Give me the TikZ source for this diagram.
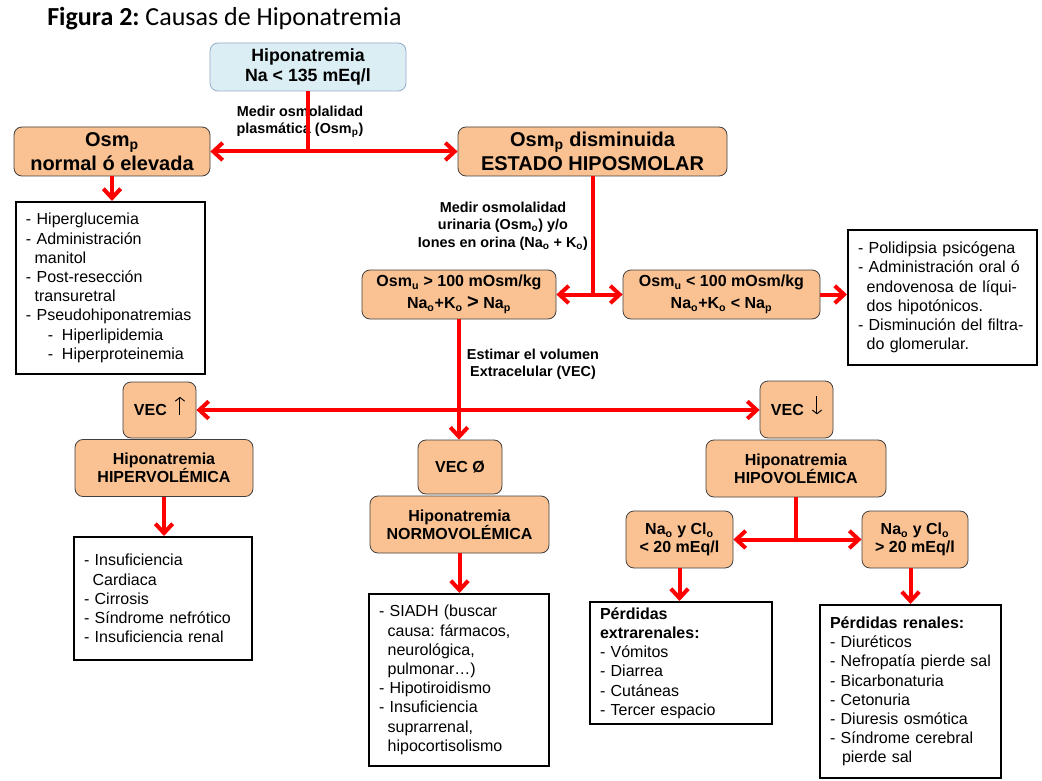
\documentclass[tikz,border=0pt]{standalone}
\usepackage{fontspec}
\setmainfont{Liberation Sans}
\newfontfamily\titlefont{Carlito}
\usetikzlibrary{arrows.meta}
\definecolor{peach}{RGB}{250,194,146}
\definecolor{paleblue}{RGB}{219,238,244}
\definecolor{blueedge}{RGB}{150,172,200}
\definecolor{redline}{RGB}{255,0,0}
\newcommand{\lsub}[1]{\textsubscript{#1}}
\newcommand{\uparr}{\smash{\tikz[baseline=0pt]\draw[black,line width=0.7pt,-{Straight Barb[length=2.8pt,width=7pt]}] (0pt,0.5pt) -- (0pt,14pt);}}
\newcommand{\dnarr}{\smash{\tikz[baseline=0pt]\draw[black,line width=0.7pt,-{Straight Barb[length=2.8pt,width=7pt]}] (0pt,14pt) -- (0pt,0.5pt);}}
\frenchspacing
\begin{document}
\begin{tikzpicture}[x=0.75pt,y=-0.75pt,
  box/.style={draw=black!75, line width=0.6pt, fill=peach, rounded corners=6pt, align=center, inner sep=0pt, font=\bfseries\fontsize{12}{13.5}\selectfont},
  bbox/.style={box, fill=paleblue, draw=blueedge, font=\bfseries\fontsize{13.3}{15.5}\selectfont},
  bigbox/.style={box, font=\bfseries\fontsize{15}{17.5}\selectfont},
  midbox/.style={box, font=\bfseries\fontsize{12}{16.5}\selectfont},
  lbox/.style={draw=black, line width=1.5pt, fill=white, align=left, inner sep=0pt, font=\fontsize{12}{14.4}\selectfont},
  arr/.style={draw=redline, line width=3pt, -{Straight Barb[length=7pt,width=13pt]}},
  ln/.style={draw=redline, line width=3pt},
  lbl/.style={font=\bfseries\fontsize{10.8}{13}\selectfont, align=center, inner sep=0pt}]
\fill[white] (0,0) rectangle (1042,781);
\useasboundingbox (0,0) rectangle (1042,781);

\node[anchor=base west, inner sep=0pt, font=\titlefont\fontsize{19.5}{22}\selectfont] (title) at (47,26) {\textbf{Figura 2:} Causas de Hiponatremia};

\node[bbox, minimum width=147pt, minimum height=36pt] (hipo) at (308,67) {Hiponatremia\\Na < 135 mEq/l};
\node[bigbox, minimum width=147pt, minimum height=36.75pt] (osmn) at (112,151.5) {Osm\lsub{p}\\normal ó elevada};
\node[bigbox, minimum width=201.75pt, minimum height=36.75pt] (osmd) at (592.5,151.5) {Osm\lsub{p} disminuida\\ESTADO HIPOSMOLAR};

\node[lbox, minimum width=141.75pt, minimum height=129pt, text width=126.75pt] (list1) at (110.5,288) {- Hiperglucemia\\- Administración\\\hspace*{6.5pt}manitol\\- Post-resección\\\hspace*{6.5pt}transuretral\\- Pseudohiponatremias\\\hspace*{16.5pt}-\hspace*{6.5pt}Hiperlipidemia\\\hspace*{16.5pt}-\hspace*{6.5pt}Hiperproteinemia};

\node[midbox, minimum width=145.5pt, minimum height=36.75pt] (osmu1) at (459,294.5) {Osm\lsub{u} > 100 mOsm/kg\\Na\lsub{o}+K\lsub{o} {\fontsize{15}{16}\selectfont >} Na\lsub{p}};
\node[midbox, minimum width=147.75pt, minimum height=36.75pt] (osmu2) at (721.5,294.5) {Osm\lsub{u} < 100 mOsm/kg\\Na\lsub{o}+K\lsub{o} < Na\lsub{p}};

\node[lbox, minimum width=141.75pt, minimum height=101.25pt, text width=126.75pt] (list2) at (942.5,297.5) {- Polidipsia psicógena\\- Administración oral ó\\\hspace*{6.5pt}endovenosa de líqui-\\\hspace*{6.5pt}dos hipotónicos.\\- Disminución del filtra-\\\hspace*{6.5pt}do glomerular.};

\node[box, minimum width=54.75pt, minimum height=42pt] (vecup) at (159.5,410) {VEC\hspace{6pt}\uparr};
\node[box, minimum width=133.5pt, minimum height=42.75pt] (hiper) at (164,468) {Hiponatremia\\HIPERVOLÉMICA};
\node[lbox, minimum width=133.5pt, minimum height=92.25pt, text width=118.5pt] (list3) at (163,598.5) {- Insuficiencia\\\hspace*{6.5pt}Cardiaca\\- Cirrosis\\- Síndrome nefrótico\\- Insuficiencia renal};

\node[box, minimum width=63pt, minimum height=40.5pt] (vec0) at (460,467) {VEC Ø};
\node[box, minimum width=134.25pt, minimum height=42.75pt] (normo) at (459.5,524.5) {Hiponatremia\\NORMOVOLÉMICA};
\node[lbox, minimum width=135pt, minimum height=129pt, text width=120pt] (list4) at (459,680) {- SIADH (buscar\\\hspace*{6.5pt}causa: fármacos,\\\hspace*{6.5pt}neurológica,\\\hspace*{6.5pt}pulmonar…)\\- Hipotiroidismo\\- Insuficiencia\\\hspace*{6.5pt}suprarrenal,\\\hspace*{6.5pt}hipocortisolismo};

\node[box, minimum width=54.75pt, minimum height=42.75pt] (vecdn) at (796.5,409.5) {VEC\hspace{6pt}\dnarr};
\node[box, minimum width=135pt, minimum height=42.75pt] (hipov) at (796,468.5) {Hiponatremia\\HIPOVOLÉMICA};
\node[box, minimum width=80.25pt, minimum height=42.75pt] (na1) at (679.5,539.5) {Na\lsub{o} y Cl\lsub{o}\\< 20 mEq/l};
\node[box, minimum width=79.5pt, minimum height=42.75pt] (na2) at (915,539.5) {Na\lsub{o} y Cl\lsub{o}\\> 20 mEq/l};
\node[lbox, minimum width=136.5pt, minimum height=91.5pt, text width=121.5pt] (list5) at (681,663) {\textbf{Pérdidas}\\\textbf{extrarenales:}\\- Vómitos\\- Diarrea\\- Cutáneas\\- Tercer espacio};
\node[lbox, minimum width=135.75pt, minimum height=129.75pt, text width=120.75pt] (list6) at (910.5,691.5) {\textbf{Pérdidas renales:}\\- Diuréticos\\- Nefropatía pierde sal\\- Bicarbonaturia\\- Cetonuria\\- Diuresis osmótica\\- Síndrome cerebral\\\hspace*{9pt}pierde sal};

\node[lbl] (lab1) at (300,122) {Medir osmolalidad\\plasmática (Osm\lsub{p})};
\node[lbl] (lab2) at (503,226) {Medir osmolalidad\\urinaria (Osm\lsub{o}) y/o\\Iones en orina (Na\lsub{o} + K\lsub{o})};
\node[lbl] (lab3) at (533,364) {Estimar el volumen\\Extracelular (VEC)};

\coordinate (j1) at (hipo.south |- osmn.east);
\draw[ln] (hipo.south) -- (j1);
\draw[arr] (j1) -- (osmn.east);
\draw[arr] (j1) -- (osmd.west);
\draw[arr] (osmn.south) -- (osmn.south |- list1.north);
\coordinate (j2) at (osmd.south |- osmu1.east);
\draw[ln] (osmd.south) -- (j2);
\draw[arr] (j2) -- (osmu1.east);
\draw[arr] (j2) -- (osmu2.west);
\draw[arr] (osmu2.east) -- (list2.west |- osmu2.east);
\coordinate (j3) at (osmu1.south |- vecup.east);
\draw[arr] (osmu1.south) -- (osmu1.south |- vec0.north);
\draw[arr] (j3) -- (vecup.east);
\draw[arr] (j3) -- (vecdn.west |- j3);
\draw[arr] (hiper.south) -- (hiper.south |- list3.north);
\draw[arr] (normo.south) -- (normo.south |- list4.north);
\coordinate (j4) at (hipov.south |- na1.east);
\draw[ln] (hipov.south) -- (j4);
\draw[arr] (j4) -- (na1.east);
\draw[arr] (j4) -- (na2.west);
\draw[arr] (na1.south) -- (na1.south |- list5.north);
\draw[arr] (list6.north |- na2.south) -- (list6.north);
\end{tikzpicture}
\end{document}
